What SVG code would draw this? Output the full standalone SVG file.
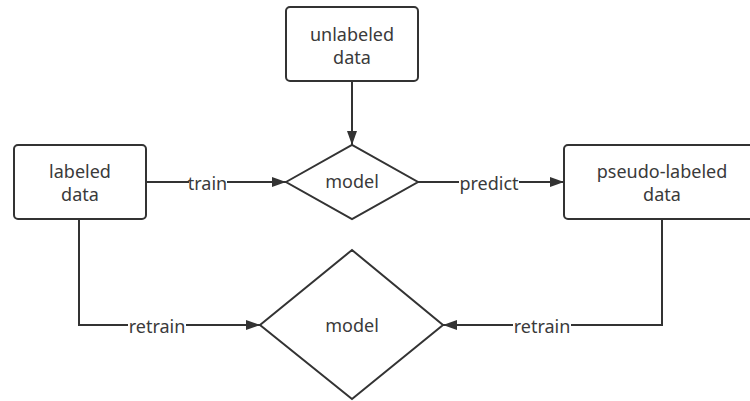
<svg xmlns="http://www.w3.org/2000/svg" width="750" height="401" viewBox="0 0 750 401">
  <defs>
    <marker id="arrow" viewBox="0 0 14 10" refX="14" refY="5" markerWidth="14" markerHeight="10" markerUnits="userSpaceOnUse" orient="auto">
      <path d="M0,0 L14,5 L0,10 Z" fill="#333"/>
    </marker>
    <style>
      .box { fill: #fff; stroke: #333; stroke-width: 2; }
      .txt { font-family: "Noto Sans", "Open Sans", "Liberation Sans", sans-serif; font-size: 18px; fill: #3a3a3a; text-anchor: middle; }
      .edge { fill: none; stroke: #333; stroke-width: 2; marker-end: url(#arrow); }
      .lblbg { fill: #fff; }
    </style>
  </defs>
  <rect width="750" height="401" fill="#fff"/>

  <!-- connectors -->
  <g id="connectors">
    <path class="edge" d="M352,81 L352,145"/>
    <path class="edge" d="M146,182 L286,182"/>
    <path class="edge" d="M418,182 L564,182"/>
    <path class="edge" d="M79,219 L79,325 L260,325"/>
    <path class="edge" d="M662,219 L662,325 L443,325"/>

    <rect class="lblbg" x="189" y="172" width="38" height="20"/>
    <text class="txt" x="207.5" y="190">train</text>
    <rect class="lblbg" x="459" y="172" width="60" height="20"/>
    <text class="txt" x="489" y="190">predict</text>
    <rect class="lblbg" x="128" y="315" width="58" height="20"/>
    <text class="txt" x="157" y="333">retrain</text>
    <rect class="lblbg" x="513" y="315" width="58" height="20"/>
    <text class="txt" x="542" y="333">retrain</text>
  </g>

  <g id="unlabeled-data">
    <rect class="box" x="286" y="7" width="132" height="74" rx="4"/>
    <text class="txt" x="352" y="41">unlabeled</text>
    <text class="txt" x="352" y="64">data</text>
  </g>

  <g id="labeled-data">
    <rect class="box" x="14" y="145" width="132" height="74" rx="4"/>
    <text class="txt" x="80" y="178">labeled</text>
    <text class="txt" x="80" y="201">data</text>
  </g>

  <g id="model-top">
    <path class="box" d="M286,182 L352,145 L418,182 L352,219 Z"/>
    <text class="txt" x="352" y="188">model</text>
  </g>

  <g id="pseudo-labeled-data">
    <rect class="box" x="564" y="145" width="196" height="74" rx="4"/>
    <text class="txt" x="662" y="178">pseudo-labeled</text>
    <text class="txt" x="662" y="201">data</text>
  </g>

  <g id="model-bottom">
    <path class="box" d="M260,325 L352,250 L443,325 L352,399 Z"/>
    <text class="txt" x="352" y="332">model</text>
  </g>
</svg>
